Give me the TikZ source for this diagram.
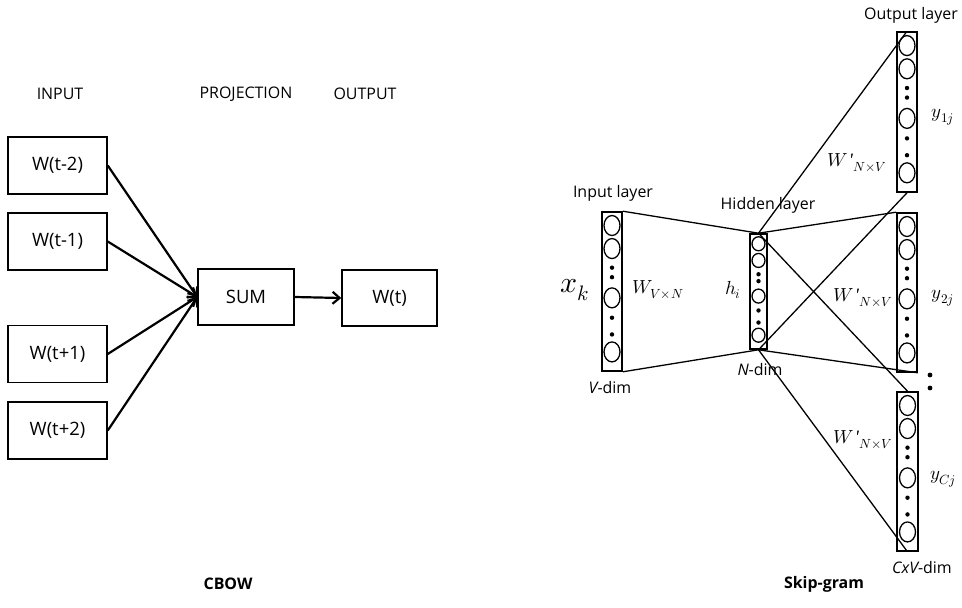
\documentclass[tikz,border=0pt]{standalone}
\usepackage{fontspec}
\usepackage{unicode-math}
\setmainfont{Open Sans}
\setmathfont{Latin Modern Math}
\usetikzlibrary{arrows.meta}
\newcommand\nnlayer[7]{%
  \node[layerbox, minimum width=#4 bp, minimum height=#5 bp] (#1) at (#2,#3) {};
  \foreach \f in {0.085,0.23,0.54,0.88}
    \draw[line width=1.3bp] (#2,{#3-#5/2+\f*#5}) ellipse [x radius=#6/2, y radius=#7/2];
  \foreach \f in {0.35,0.41,0.665,0.77}
    \fill (#2,{#3-#5/2+\f*#5}) circle [radius=2.2];
}
\newcommand\wprime{$W\mkern1mu\mbox{\fontspec{Liberation Serif}\itshape '}{}_{N\times V}$}
\begin{document}
\begin{tikzpicture}[x=1bp,y=-1bp,
  box/.style={draw, line width=1.5bp, minimum width=99bp, minimum height=57bp, inner sep=0pt, font=\fontsize{18.5}{22}\selectfont},
  lbl/.style={inner sep=0pt, font=\fontsize{16}{19}\selectfont},
  ttl/.style={inner sep=0pt, font=\fontsize{16}{19}\selectfont\bfseries},
  arr/.style={line width=2.2bp, -{Straight Barb[length=7bp,width=12bp]}},
  conn/.style={line width=1.3bp},
  layerbox/.style={draw, line width=1.6bp, inner sep=0pt},
  mth/.style={inner sep=0pt, font=\fontsize{19}{22}\selectfont}]
\useasboundingbox (0,0) rectangle (962,608);
% CBOW
\node[lbl] (tin) at (60,94) {INPUT};
\node[lbl] (tproj) at (246,94) {PROJECTION};
\node[lbl] (tout) at (365,94) {OUTPUT};
\node[box] (w1) at (57.5,165.5) {W(t-2)};
\node[box] (w2) at (57.5,241.5) {W(t-1)};
\node[box] (w3) at (57.5,354) {W(t+1)};
\node[box] (w4) at (57.5,430.5) {W(t+2)};
\node[box, minimum width=96bp, minimum height=56bp] (sum) at (246,297) {SUM};
\node[box, minimum width=95bp, minimum height=56bp] (wt) at (389.5,298) {W(t)};
\foreach \n in {w1,w2,w3,w4} \draw[arr] (\n.east) -- (sum.west);
\draw[arr] (sum.east) -- (wt.west);
\node[ttl] (cbow) at (228,584) {CBOW};
% Skip-gram
\nnlayer{inl}{612}{291.5}{20}{159}{16}{20}
\nnlayer{hid}{758.5}{291.5}{17}{115}{13}{14}
\nnlayer{o1}{907}{112}{20}{160}{16}{20}
\nnlayer{o2}{907}{292.5}{20}{159}{16}{20}
\nnlayer{o3}{907.5}{471.5}{21}{159}{16}{20}
\draw[conn] (inl.north east) -- (hid.north);
\draw[conn] (inl.south east) -- (hid.south);
\draw[conn] (hid.north) -- (o1.north);
\draw[conn] (hid.south) -- (o1.south);
\draw[conn] (hid.north) -- (o2.north west);
\draw[conn] (hid.south) -- (o2.south east);
\draw[conn] (hid.north) -- (o3.north);
\draw[conn] (hid.south) -- (o3.south);
\fill (930,375) circle [radius=2.4];
\fill (930,388) circle [radius=2.4];
\node[lbl] (linl) at (613,193) {Input layer};
\node[lbl] (lhid) at (768,205) {Hidden layer};
\node[lbl] (lout) at (911,15) {Output layer};
\node[lbl] (vdim) at (610,388) {{\itshape V}-dim};
\node[lbl] (ndim) at (760,370) {{\itshape N}-dim};
\node[lbl] (cdim) at (922,568) {{\itshape CxV}-dim};
\node[inner sep=0pt, font=\fontsize{30}{34}\selectfont] (xk) at (575,290) {$x_k$};
\node[mth] (wvn) at (658,290) {$W_{V\times N}$};
\node[mth] (hi) at (733,290) {$h_i$};
\node[mth] (wp1) at (857,163) {\wprime};
\node[mth] (wp2) at (863,298) {\wprime};
\node[mth] (wp3) at (863,440) {\wprime};
\node[mth] (y1) at (943,117) {$y_{1j}$};
\node[mth] (y2) at (943,298) {$y_{2j}$};
\node[mth] (y3) at (943,479) {$y_{Cj}$};
\node[ttl] (sg) at (824,584) {Skip-gram};
\end{tikzpicture}
\end{document}
